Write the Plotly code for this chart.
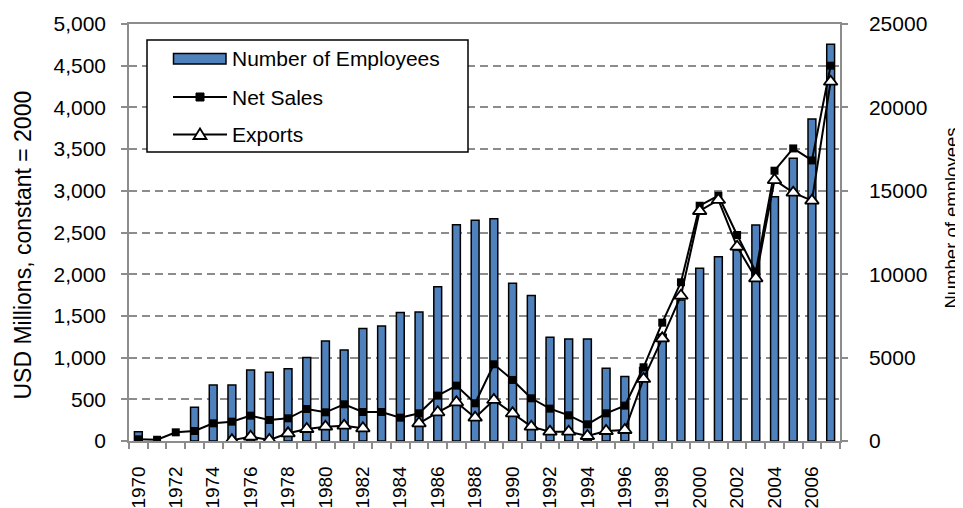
import plotly.graph_objects as go

years = list(range(1970, 2008))

employees = [560, None, None, 2020, 3350, 3360, 4250, 4120, 4330, 5000,
             5990, 5450, 6750, 6900, 7700, 7730, 9250, 12970, 13230, 13330,
             9450, 8730, 6220, 6120, 6120, 4360, 3860, 4400, 6400, 8450,
             10350, 11050, 11450, 12950, 14650, 16950, 19300, 23780]

net_sales = [20, 15, 104, 120, 212, 232, 304, 252, 272, 384,
             344, 440, 348, 348, 280, 332, 544, 664, 452, 920,
             732, 512, 388, 308, 200, 332, 424, 884, 1419, 1903,
             2821, 2941, 2470, 2030, 3241, 3508, 3364, 4500]

exports = [None, None, None, None, None, 10, 52, 12, 92, 144,
           172, 184, 152, None, None, 212, 344, 464, 280, 492,
           332, 172, 112, 112, 60, 120, 132, 744, 1231, 1742,
           2758, 2890, 2330, 1951, 3129, 2978, 2882, 4308]

series_names = ["Number of Employees", "Net Sales", "Exports"]
left_title = "USD Millions, constant = 2000"
right_title = "Number of employees"

label_years = list(range(1970, 2008, 2))
label_text = [str(y) for y in label_years]

left_ticks = list(range(0, 5001, 500))
left_text = [f"{v:,}" for v in left_ticks]
right_ticks = list(range(0, 25001, 5000))
right_text = [str(v) for v in right_ticks]

FONT = "Liberation Sans, Arial, sans-serif"
GRID = "#8c8c8c"
BLUE = "#4F81BD"

# page body adds an 8px offset; figure sized so it fits the 963x508 window
OFF = 8
W, H = 963 - OFF, 508 - OFF
# plot area geometry in window pixels
L, R, T, B = 129, 840, 24, 441


def px(x):
    return (x - L) / (R - L)


def py(y):
    return (B - y) / (B - T)


fig = go.Figure()

fig.add_trace(go.Bar(
    x=years, y=employees, name=series_names[0], yaxis="y",
    width=0.42, marker=dict(color=BLUE, line=dict(color="black", width=1.5)),
    showlegend=False,
))
fig.add_trace(go.Scatter(
    x=years, y=net_sales, name=series_names[1], mode="lines+markers", yaxis="y2",
    line=dict(color="black", width=2),
    marker=dict(symbol="square", size=8, color="black"),
    showlegend=False,
))
fig.add_trace(go.Scatter(
    x=years, y=exports, name=series_names[2], mode="lines+markers", yaxis="y2",
    line=dict(color="black", width=2), connectgaps=False,
    marker=dict(symbol="triangle-up", size=12, color="white",
                line=dict(color="black", width=1.8)),
    showlegend=False,
))

# ---- legend drawn with shapes + annotations ----
shapes = [
    dict(type="rect", xref="paper", yref="paper",
         x0=px(147), x1=px(468), y0=py(152), y1=py(40),
         line=dict(color="black", width=1.5), fillcolor="white", layer="above"),
    dict(type="rect", xref="paper", yref="paper",
         x0=px(173.5), x1=px(226), y0=py(64), y1=py(53.5),
         line=dict(color="black", width=1.5), fillcolor=BLUE, layer="above"),
    dict(type="line", xref="paper", yref="paper",
         x0=px(173), x1=px(227), y0=py(97), y1=py(97),
         line=dict(color="black", width=2), layer="above"),
    dict(type="rect", xref="paper", yref="paper",
         x0=px(196), x1=px(204), y0=py(101), y1=py(93),
         line=dict(color="black", width=1), fillcolor="black", layer="above"),
    dict(type="line", xref="paper", yref="paper",
         x0=px(173), x1=px(227), y0=py(134.5), y1=py(134.5),
         line=dict(color="black", width=2), layer="above"),
    dict(type="path", xref="paper", yref="paper",
         path=(f"M {px(200)},{py(128.5)} L {px(206.5)},{py(139)} "
               f"L {px(193.5)},{py(139)} Z"),
         line=dict(color="black", width=1.8), fillcolor="white", layer="above"),
]
row_y = [58.5, 97, 134.5]
annotations = [
    dict(xref="paper", yref="paper", x=px(230), y=py(yy), text=nm,
         xanchor="left", yanchor="middle", showarrow=False,
         font=dict(size=21, family=FONT, color="black"))
    for nm, yy in zip(series_names, row_y)
]
# axis titles as rotated annotations
annotations.append(dict(
    xref="paper", yref="paper", x=px(22.5), y=py(245), text=left_title,
    textangle=-90, xanchor="center", yanchor="middle", showarrow=False,
    font=dict(size=23, family=FONT, color="black")))
annotations.append(dict(
    xref="paper", yref="paper", x=px(951), y=py(218.5), text=right_title,
    textangle=-90, xanchor="center", yanchor="middle", showarrow=False,
    font=dict(size=18.5, family=FONT, color="black")))

fig.update_layout(
    width=W, height=H,
    margin=dict(l=L - OFF, r=W + OFF - R, t=T - OFF, b=H + OFF - B),
    paper_bgcolor="white", plot_bgcolor="white",
    font=dict(family=FONT, size=21, color="black"),
    showlegend=False,
    shapes=shapes, annotations=annotations,
    xaxis=dict(
        range=[1969.5, 2007.5], tickmode="array",
        tickvals=label_years, ticktext=label_text, tickangle=-90,
        ticks="", showgrid=False, zeroline=False, automargin=False,
        showline=True, linecolor=GRID, linewidth=1.5, mirror=True,
        ticklabelstandoff=16,
        tickfont=dict(size=19),
        minor=dict(ticks="outside", tick0=1969.5, dtick=1, ticklen=6,
                   tickcolor=GRID, tickwidth=1.5, showgrid=False),
    ),
    # right axis: employees (base axis, carries the gridlines so bars sit above them)
    yaxis=dict(
        range=[0, 25000], tickmode="array", tickvals=right_ticks, ticktext=right_text,
        side="right", automargin=False,
        showgrid=True, gridcolor=GRID, griddash="8px,5px", gridwidth=1.5,
        minor=dict(showgrid=True, gridcolor=GRID, griddash="8px,5px", gridwidth=1.5,
                   tick0=2500, dtick=5000, ticks=""),
        zeroline=False, showline=True, linecolor=GRID, linewidth=1.5,
        ticks="outside", ticklen=6, tickcolor=GRID, tickwidth=1.5,
        ticklabelstandoff=17, tickfont=dict(size=21),
    ),
    # left axis: USD millions (overlay, lines drawn on top of bars)
    yaxis2=dict(
        range=[0, 5000], tickmode="array", tickvals=left_ticks, ticktext=left_text,
        overlaying="y", side="left", showgrid=False, zeroline=False, automargin=False,
        showline=True, linecolor=GRID, linewidth=1.5,
        ticks="outside", ticklen=6, tickcolor=GRID, tickwidth=1.5,
        ticklabelstandoff=11, tickfont=dict(size=21),
    ),
    barmode="overlay",
)

fig.write_html("out.html")
